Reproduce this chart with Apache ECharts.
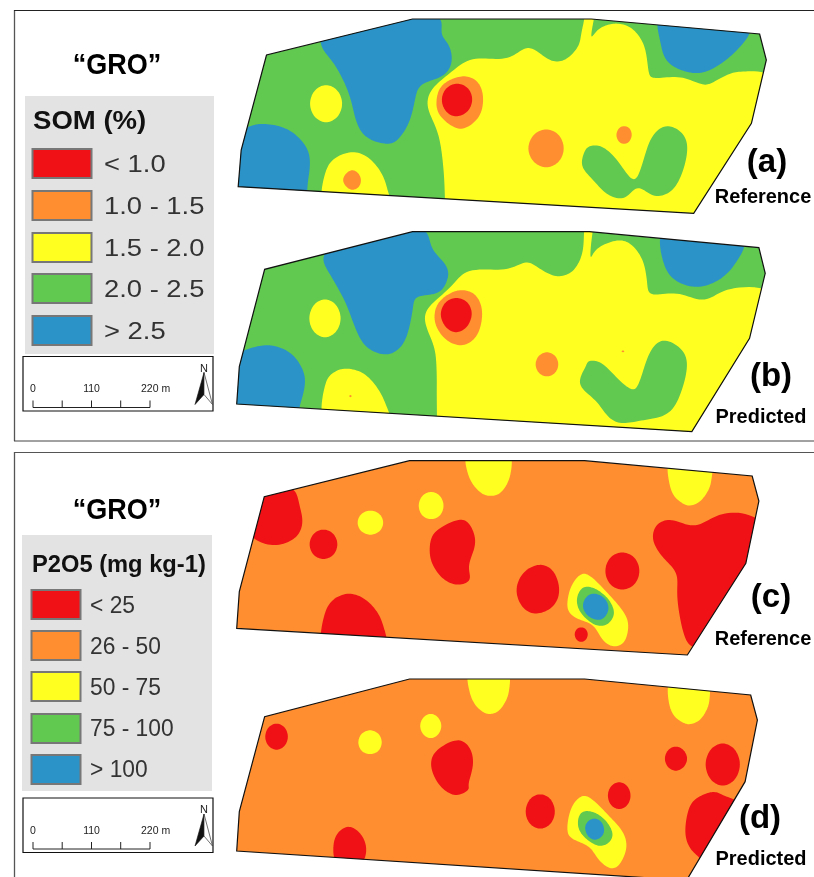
<!DOCTYPE html>
<html><head><meta charset="utf-8">
<style>html,body{margin:0;padding:0;background:#fff}#c{width:814px;height:877px}</style>
<script src="https://cdn.jsdelivr.net/npm/echarts@6/dist/echarts.min.js"></script></head>
<body><div id="c"></div>
<script>
// ---------- class colours ----------
const RED='#f01116',ORANGE='#ff8e30',YELLOW='#ffff20',GREEN='#61c850',BLUE='#2b93c8';
// ---------- legend / labels ----------
const somClasses=['< 1.0','1.0 - 1.5','1.5 - 2.0','2.0 - 2.5','> 2.5'];
const p2o5Classes=['< 25','26 - 50','50 - 75','75 - 100','> 100'];
const classColors=[RED,ORANGE,YELLOW,GREEN,BLUE];
const scaleTicks=['0','110','220 m'];
// ---------- panel (a) SOM reference ----------
const aOutline=[[22,530],[30,420],[98,135],[490,27],[970,27],[1422,72],[1440,150],[1400,340],[1245,610]];
const aYellowMain=[[955,10],[978,10],[973,50],[970,82],[985,62],[1005,48],[1040,40],[1080,55],[1110,100],[1120,150],[1125,190],[1140,205],[1210,200],[1270,225],[1300,215],[1340,192],[1380,185],[1470,205],[1480,400],[1300,650],[700,660],[585,660],[578,600],[575,500],[565,400],[550,345],[530,290],[540,240],[590,190],[650,145],[740,148],[790,115],[820,120],[860,152],[900,150],[935,110],[943,70],[950,35]];
const aBlueTop=[[550,10],[565,70],[590,110],[595,160],[570,200],[510,225],[495,280],[480,340],[450,390],[420,402],[370,385],[340,340],[320,250],[280,160],[240,95],[300,10]];
const aBlueSW=[[50,350],[100,342],[160,360],[205,410],[215,460],[208,520],[195,590],[100,600],[-20,580],[-10,400]];
const aBlueNE=[[1155,10],[1155,90],[1170,150],[1210,180],[1265,190],[1320,160],[1370,110],[1398,50],[1300,10]];
const aYellowW=[[258,224],[289,241],[302,281],[289,321],[258,338],[227,321],[214,281],[227,241]];
const aYellowSW=[[330,425],[375,445],[410,495],[425,550],[432,600],[340,620],[248,590],[255,490],[280,445]];
const aOrangeSW=[[328,480],[345,490],[352,512],[345,532],[328,540],[312,530],[303,510],[312,490]];
const aOrangeHot=[[630,198],[665,215],[680,260],[670,320],[625,358],[585,340],[555,300],[560,240],[590,210]];
const aRedHot=[[610,220],[640,235],[651,270],[638,305],[607,320],[580,305],[568,270],[580,235]];
const aOrangeMid=[[849,357],[883,374],[897,415],[883,456],[849,473],[815,456],[800,415],[815,374]];
const aOrangeSmall=[[1058,348],[1073,355],[1079,375],[1072,395],[1058,402],[1044,395],[1037,375],[1044,355]];
const aGreenFork=[[965,408],[1000,410],[1040,450],[1085,515],[1110,450],[1130,385],[1165,348],[1205,360],[1228,400],[1220,470],[1190,540],[1140,560],[1095,530],[1060,565],[1015,555],[975,510],[945,470],[950,430]];
// ---------- panel (b) SOM predicted ----------
const bOutline=[[18,537],[25,425],[93,133],[490,20],[965,20],[1420,68],[1437,145],[1395,340],[1240,620]];
const bYellowMain=[[953,5],[974,5],[970,50],[968,100],[985,70],[1040,45],[1080,60],[1110,110],[1120,170],[1130,210],[1200,203],[1275,228],[1340,190],[1470,205],[1480,400],[1300,650],[700,660],[558,660],[556,600],[555,500],[555,450],[550,370],[525,300],[530,250],[590,190],[640,135],[740,135],[795,110],[830,130],[875,155],[920,140],[945,90],[950,40]];
const bBlueTop=[[515,5],[540,70],[580,120],[585,160],[560,205],[500,215],[490,260],[470,350],[425,390],[370,370],[340,320],[310,230],[270,150],[250,85],[350,5]];
const bBlueSW=[[60,368],[110,360],[165,385],[198,440],[200,490],[185,550],[170,600],[60,600],[-20,560],[0,430],[25,385]];
const bBlueNE=[[1158,10],[1165,120],[1200,170],[1260,187],[1320,160],[1360,110],[1382,40],[1270,10]];
const bYellowW=[[255,222],[285,239],[298,280],[285,321],[255,338],[225,321],[212,280],[225,239]];
const bYellowSW=[[310,430],[360,445],[400,495],[422,550],[430,600],[340,620],[248,590],[255,480],[275,445]];
const bOrangeHot=[[625,195],[660,210],[678,260],[665,330],[625,362],[580,345],[550,295],[555,240],[590,205]];
const bRedHot=[[608,218],[638,232],[650,268],[635,308],[605,323],[578,305],[565,268],[578,232]];
const bOrangeMid=[[851,381],[873,392],[882,418],[873,444],[851,455],[829,444],[820,418],[829,392]];
const bDotW=[[323,510],[327,513],[323,517],[320,513]];
const bDotE=[[1055,376],[1059,379],[1055,382],[1051,379]];
const bGreenJ=[[965,407],[1000,415],[1040,460],[1080,495],[1100,470],[1125,385],[1160,345],[1205,365],[1228,410],[1215,490],[1180,565],[1110,585],[1050,595],[1015,575],[985,530],[945,490],[940,460],[955,425]];
// ---------- panel (c) P2O5 reference ----------
const cOutline=[[18,535],[25,425],[92,140],[482,32],[952,32],[1402,78],[1420,153],[1385,340],[1228,615]];
const cYellowTop=[[635,10],[636,60],[650,100],[675,130],[700,138],[725,130],[745,100],[755,60],[752,10],[695,-5]];
const cYellowNE=[[1178,30],[1178,90],[1190,135],[1215,160],[1235,167],[1262,155],[1285,120],[1293,85],[1292,30],[1235,10]];
const cYellowA=[[540,125],[564,137],[574,167],[564,197],[540,208],[516,197],[506,167],[516,137]];
const cYellowB=[[377,181],[402,192],[412,218],[402,244],[377,255],[352,244],[342,218],[352,192]];
const cRedNW=[[165,110],[186,165],[195,220],[175,265],[120,287],[62,265],[30,200],[70,115]];
const cRedW=[[251,238],[278,251],[289,283],[278,315],[251,328],[224,315],[213,283],[224,251]];
const cRedCenter=[[615,208],[645,225],[660,280],[640,345],[645,390],[610,405],[570,385],[540,335],[537,280],[555,240]];
const cRedS=[[315,430],[360,445],[395,485],[412,530],[420,600],[335,620],[248,590],[250,510],[270,455]];
const cRedMid=[[830,343],[868,362],[885,420],[868,470],[822,492],[785,472],[768,420],[787,368]];
const cRedE=[[1053,306],[1087,323],[1100,363],[1087,403],[1053,420],[1020,403],[1007,363],[1020,323]];
const cRedSmall=[[943,532],[955,537],[961,553],[955,570],[943,576],[931,570],[925,553],[931,537]];
const cRedBig=[[1145,225],[1185,208],[1250,230],[1320,190],[1410,200],[1480,300],[1400,480],[1300,580],[1240,592],[1215,540],[1200,440],[1200,370],[1160,320],[1135,270]];
const cYellowHot=[[945,370],[975,385],[1010,425],[1050,475],[1070,520],[1060,575],[1030,590],[1000,570],[975,525],[930,505],[905,475],[915,410]];
const cGreenHot=[[950,410],[985,418],[1018,450],[1032,490],[1015,522],[985,527],[955,505],[935,475],[932,440]];
const cBlueHot=[[975,430],[1005,443],[1017,475],[1005,503],[985,510],[960,497],[947,470],[955,443]];
// ---------- panel (d) P2O5 predicted ----------
const dOutline=[[18,558],[25,440],[93,155],[482,42],[952,42],[1398,90],[1416,165],[1383,350],[1228,642],[1170,642]];
const dYellowTop=[[640,15],[641,70],[655,115],[680,142],[700,147],[722,138],[742,105],[750,70],[748,15],[695,0]];
const dYellowNE=[[1180,40],[1177,105],[1190,150],[1215,172],[1235,178],[1262,165],[1282,130],[1288,95],[1285,40],[1235,20]];
const dYellowA=[[539,146],[559,157],[568,183],[559,209],[539,220],[519,209],[510,183],[519,157]];
const dYellowB=[[376,195],[399,206],[408,232],[399,258],[376,268],[353,258],[344,232],[353,206]];
const dRedNW=[[125,175],[147,187],[156,215],[147,243],[125,255],[103,243],[94,215],[103,187]];
const dRedCenter=[[610,223],[645,250],[653,300],[640,355],[640,375],[605,392],[565,365],[540,310],[550,260]];
const dRedS=[[320,484],[350,505],[366,545],[358,590],[320,610],[282,590],[278,535],[292,500]];
const dRedMid=[[833,387],[861,402],[873,440],[861,477],[833,492],[805,477],[793,440],[805,402]];
const dRedE=[[1045,351],[1067,363],[1076,392],[1067,421],[1045,433],[1023,421],[1014,392],[1023,363]];
const dRedF=[[1197,244],[1218,255],[1228,281],[1218,307],[1197,318],[1176,307],[1167,281],[1176,255]];
const dRedG=[[1323,234],[1356,253],[1370,298],[1356,344],[1323,363],[1290,344],[1276,298],[1290,253]];
const dRedSE=[[1300,380],[1330,395],[1375,430],[1300,590],[1258,575],[1230,540],[1222,490],[1235,420],[1265,392]];
const dYellowHot=[[945,392],[975,405],[1015,450],[1055,500],[1065,550],[1045,600],[1020,610],[990,585],[965,545],[925,525],[905,500],[915,430]];
const dGreenHot=[[950,438],[985,445],[1015,475],[1028,510],[1015,535],[990,543],[960,525],[937,495],[935,460]];
const dBlueHot=[[978,460],[997,470],[1005,495],[998,515],[980,525],[962,515],[953,490],[960,470]];

const panels=[
 {outline:aOutline,base:GREEN,box:[230,10,584,215],ext:[1568,645],layers:[[YELLOW,aYellowMain],[BLUE,aBlueTop],[BLUE,aBlueSW],[BLUE,aBlueNE],[YELLOW,aYellowW],[YELLOW,aYellowSW],[ORANGE,aOrangeSW],[ORANGE,aOrangeHot],[RED,aRedHot],[ORANGE,aOrangeMid],[ORANGE,aOrangeSmall],[GREEN,aGreenFork]]},
 {outline:bOutline,base:GREEN,box:[230,225,584,215],ext:[1568,645],layers:[[YELLOW,bYellowMain],[BLUE,bBlueTop],[BLUE,bBlueSW],[BLUE,bBlueNE],[YELLOW,bYellowW],[YELLOW,bYellowSW],[ORANGE,bOrangeHot],[RED,bRedHot],[ORANGE,bOrangeMid],[ORANGE,bDotW],[ORANGE,bDotE],[GREEN,bGreenJ]]},
 {outline:cOutline,base:ORANGE,box:[230,450,584,215],ext:[1568,645],layers:[[YELLOW,cYellowTop],[YELLOW,cYellowNE],[YELLOW,cYellowA],[YELLOW,cYellowB],[RED,cRedNW],[RED,cRedW],[RED,cRedCenter],[RED,cRedS],[RED,cRedMid],[RED,cRedE],[RED,cRedSmall],[RED,cRedBig],[YELLOW,cYellowHot],[GREEN,cGreenHot],[BLUE,cBlueHot]]},
 {outline:dOutline,base:ORANGE,box:[230,665,584,212],ext:[1568,636],layers:[[YELLOW,dYellowTop],[YELLOW,dYellowNE],[YELLOW,dYellowA],[YELLOW,dYellowB],[RED,dRedNW],[RED,dRedCenter],[RED,dRedS],[RED,dRedMid],[RED,dRedE],[RED,dRedF],[RED,dRedG],[RED,dRedSE],[YELLOW,dYellowHot],[GREEN,dGreenHot],[BLUE,dBlueHot]]}
];

// closed Catmull-Rom through pixel points, sampled and lightly filtered for a smooth contour
function smoothClosed(p){
  const raw=[],n=p.length,S=10,W=4;
  for(let i=0;i<n;i++){
    const a=p[(i-1+n)%n],b=p[i],c=p[(i+1)%n],d=p[(i+2)%n];
    for(let k=0;k<S;k++){
      const t=k/S,t2=t*t,t3=t2*t;
      raw.push([0,1].map(j=>0.5*(2*b[j]+(c[j]-a[j])*t+(2*a[j]-5*b[j]+4*c[j]-d[j])*t2+(3*b[j]-a[j]-3*c[j]+d[j])*t3)));
    }
  }
  const m=raw.length;
  return raw.map((_,i)=>{
    let x=0,y=0;
    for(let w=-W;w<=W;w++){const q=raw[(i+w+m)%m];x+=q[0];y+=q[1];}
    return [x/(2*W+1),y/(2*W+1)];
  });
}
const SANS='"Liberation Sans",Arial,sans-serif';
const grid=[],xAxis=[],yAxis=[],series=[];
panels.forEach((P,i)=>{
  grid.push({left:P.box[0],top:P.box[1],width:P.box[2],height:P.box[3],show:false});
  xAxis.push({type:'value',gridIndex:i,min:0,max:P.ext[0],show:false});
  yAxis.push({type:'value',gridIndex:i,min:0,max:P.ext[1],inverse:true,show:false});
  series.push({
    type:'custom',xAxisIndex:i,yAxisIndex:i,coordinateSystem:'cartesian2d',silent:true,animation:false,clip:false,
    data:P.layers.map((l,k)=>[k]),
    renderItem:function(params,api){
      const k=api.value(0);
      const toPx=q=>api.coord(q);
      const field=P.outline.map(toPx);
      const kids=[];
      if(k===0) kids.push({type:'polygon',shape:{points:field},style:{fill:P.base}});
      const L=P.layers[k];
      kids.push({type:'polygon',shape:{points:smoothClosed(L[1].map(toPx))},style:{fill:L[0]},
        clipPath:{type:'polygon',shape:{points:field}}});
      if(k===P.layers.length-1) kids.push({type:'polygon',shape:{points:field},style:{fill:'none',stroke:'#111',lineWidth:1.2}});
      return {type:'group',children:kids};
    }
  });
});
// ---------- page furniture ----------
const g=[];
const rect=(x,y,w,h,fill,stroke,lw,z)=>g.push({type:'rect',z:z||1,shape:{x,y,width:w,height:h},style:{fill:fill||'none',stroke:stroke||'none',lineWidth:lw||0}});
const line=(x1,y1,x2,y2,c,lw)=>g.push({type:'line',z:2,shape:{x1,y1,x2,y2},style:{stroke:c,lineWidth:lw}});
const txt=(t,x,y,font,fill,align,sx)=>g.push({type:'text',z:3,x,y,scaleX:sx||1,style:{text:t,font,fill:fill||'#111',align:align||'left',verticalAlign:'middle'}});
// frames
line(14.5,10,14.5,441,'#555',1.3);line(14,10.5,814,10.5,'#222',1);line(14,441,814,441,'#444',1);
line(14.5,452,14.5,877,'#555',1.3);line(14,452.5,814,452.5,'#555',1);
// legends
function legend(bx,by,bw,bh,title,titleFont,tx,ty,tsx,sx,sw,sh,sy,lx,ly,names,lsx){
  rect(bx,by,bw,bh,'#e3e3e3');
  txt(title,tx,ty,titleFont,'#111','left',tsx);
  names.forEach((n,i)=>{
    rect(sx,sy[i],sw,sh,classColors[i],'#777',2,2);
    txt(n,lx,ly[i],'24px '+SANS,'#333','left',lsx);
  });
}
txt('“GRO”',117,66,'bold 30px '+SANS,'#000','center',0.9);
txt('“GRO”',117,511,'bold 30px '+SANS,'#000','center',0.9);
legend(25,96,189,258,'SOM (%)','bold 26px '+SANS,33,122,1.06,32.5,59,29,[149,191,233,274,316],104,[165,207,249,290,332],somClasses,1.14);
legend(22,535,190,256,'P2O5 (mg kg-1)','bold 23px '+SANS,32,566,1.03,31.5,49,29,[590,631,672,714,755],90,[606,647,688,729,770],p2o5Classes,0.95);
// scale bars
function scale(y0){
  rect(23,y0,190,54.5,'#fff','#111',1.2,1);
  [33,91.5,150].forEach((x,i)=>txt(scaleTicks[i],i==2?141:x,y0+33,'10.5px '+SANS,'#222',i==2?'left':'center'));
  line(33,y0+51,150,y0+51,'#222',1);
  [33,62.2,91.5,120.7,150].forEach(x=>line(x,y0+44,x,y0+51,'#222',1));
  txt('N',204,y0+12,'11px '+SANS,'#222','center');
  g.push({type:'polygon',z:2,shape:{points:[[204,y0+16],[195,y0+48],[204,y0+38]]},style:{fill:'#111',stroke:'#111',lineWidth:.6}});
  g.push({type:'polygon',z:2,shape:{points:[[204,y0+16],[212.5,y0+48],[204,y0+38]]},style:{fill:'#fff',stroke:'#333',lineWidth:.7}});
}
scale(356.5);scale(798);
// panel captions
[['(a)',767,163,'Reference',763,197],['(b)',771,377,'Predicted',761,417],['(c)',771,598,'Reference',763,639],['(d)',760,819,'Predicted',761,859]]
.forEach(r=>{txt(r[0],r[1],r[2],'bold 33px '+SANS,'#000','center');txt(r[3],r[4],r[5],'bold 21px '+SANS,'#000','center',0.95);});

const chart=echarts.init(document.getElementById('c'),null,{renderer:'canvas'});
chart.setOption({animation:false,backgroundColor:'#fff',grid,xAxis,yAxis,series,graphic:{elements:g}});
</script></body></html>
